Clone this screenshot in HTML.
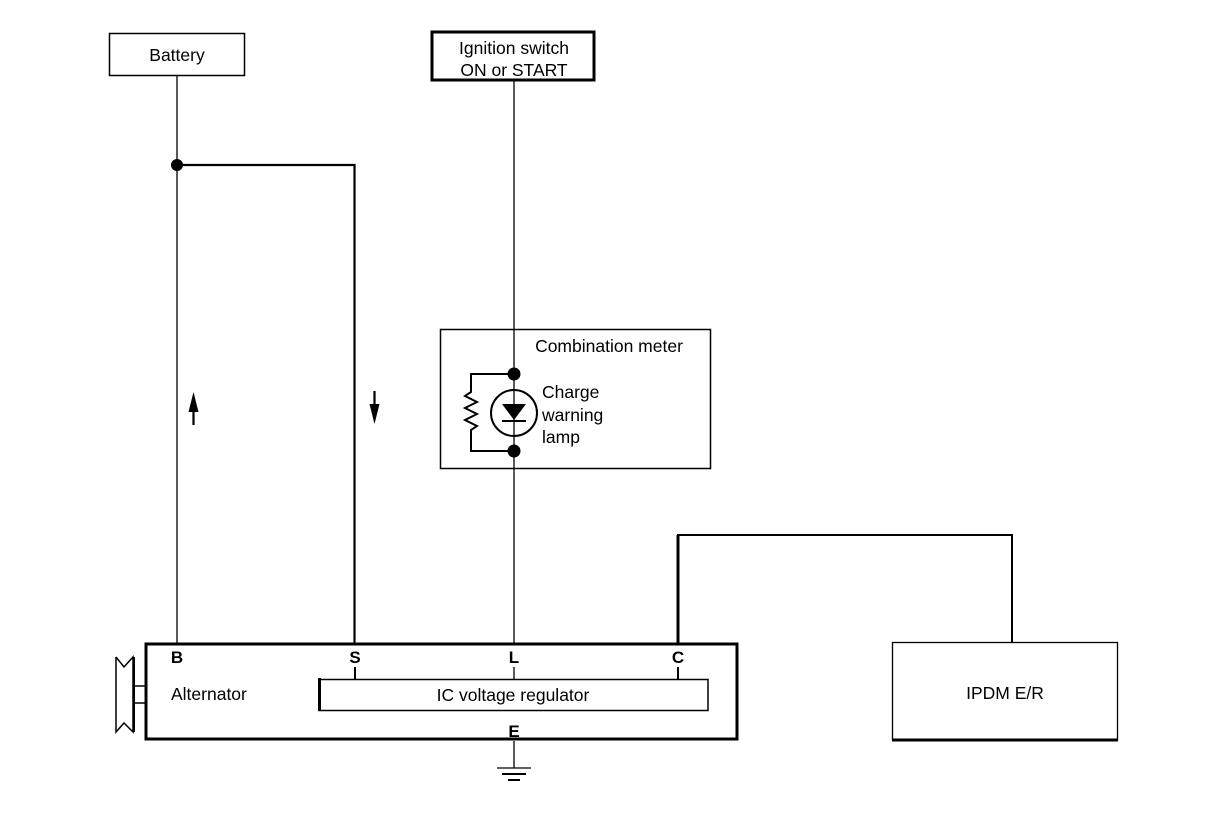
<!DOCTYPE html>
<html><head><meta charset="utf-8"><style>
html,body{margin:0;padding:0;background:#fff;}
svg{display:block;}
text{font-family:"Liberation Sans",sans-serif;fill:#000;}
</style></head><body>
<svg width="1216" height="822" viewBox="0 0 1216 822" xmlns="http://www.w3.org/2000/svg">
<rect x="109.5" y="33.5" width="135" height="42" fill="none" stroke="#000" stroke-width="1.5"/>
<text x="177" y="61" font-size="17.5" text-anchor="middle">Battery</text>
<rect x="432" y="32" width="162" height="48" fill="none" stroke="#000" stroke-width="3"/>
<text x="514" y="54" font-size="17.5" text-anchor="middle">Ignition switch</text>
<text x="514" y="76" font-size="17.5" text-anchor="middle">ON or START</text>
<line x1="177" y1="76" x2="177" y2="643" stroke="#000" stroke-width="1.3"/>
<polyline points="177,165 354.5,165 354.5,643" fill="none" stroke="#000" stroke-width="2.2"/>
<circle cx="177" cy="165" r="6" fill="#000"/>
<line x1="514" y1="81" x2="514" y2="643" stroke="#000" stroke-width="1.3"/>
<line x1="193.5" y1="405" x2="193.5" y2="425" stroke="#000" stroke-width="2.2"/>
<polygon points="193.5,392 188.5,412 198.5,412" fill="#000"/>
<line x1="374.5" y1="391" x2="374.5" y2="412" stroke="#000" stroke-width="2.2"/>
<polygon points="374.5,424 369.5,404 379.5,404" fill="#000"/>
<rect x="440.5" y="329.5" width="270" height="139" fill="none" stroke="#000" stroke-width="1.5"/>
<text x="609" y="352" font-size="17.5" text-anchor="middle">Combination meter</text>
<polyline points="514,374 471,374 471,392 465,396 477,402 465,408 477,414 465,420 477,426 471,430 471,451 514,451" fill="none" stroke="#000" stroke-width="2"/>
<circle cx="514" cy="374" r="6.5" fill="#000"/>
<circle cx="514" cy="451" r="6.5" fill="#000"/>
<circle cx="514" cy="413" r="23" fill="#fff" stroke="#000" stroke-width="2"/>
<line x1="514" y1="390" x2="514" y2="436" stroke="#000" stroke-width="1.3"/>
<polygon points="502,404 526,404 514,420" fill="#000"/>
<line x1="502" y1="421" x2="526" y2="421" stroke="#000" stroke-width="2"/>
<text x="542" y="398" font-size="17.5">Charge</text>
<text x="542" y="421" font-size="17.5">warning</text>
<text x="542" y="443" font-size="17.5">lamp</text>
<polyline points="678,643 678,535 1012,535 1012,643" fill="none" stroke="#000" stroke-width="2"/>
<line x1="678" y1="535" x2="678" y2="643" stroke="#000" stroke-width="3"/>
<rect x="146" y="644" width="591" height="95" fill="none" stroke="#000" stroke-width="3"/>
<text x="177" y="663" font-size="17" font-weight="bold" text-anchor="middle">B</text>
<text x="355" y="663" font-size="17" font-weight="bold" text-anchor="middle">S</text>
<text x="514" y="663" font-size="17" font-weight="bold" text-anchor="middle">L</text>
<text x="678" y="663" font-size="17" font-weight="bold" text-anchor="middle">C</text>
<text x="514" y="737" font-size="17" font-weight="bold" text-anchor="middle">E</text>
<text x="171" y="700" font-size="17.5">Alternator</text>
<line x1="355" y1="667" x2="355" y2="679" stroke="#000" stroke-width="2"/>
<line x1="514" y1="667" x2="514" y2="679" stroke="#000" stroke-width="1.3"/>
<line x1="678" y1="667" x2="678" y2="679" stroke="#000" stroke-width="2"/>
<rect x="319" y="679.5" width="389" height="31" fill="none" stroke="#000" stroke-width="1.5"/>
<line x1="319.5" y1="678" x2="319.5" y2="711" stroke="#000" stroke-width="3"/>
<text x="513" y="701" font-size="17.5" text-anchor="middle">IC voltage regulator</text>
<polyline points="116,657 124,667 133,657 133,732 124,723 116,732 116,657" fill="none" stroke="#000" stroke-width="1.5"/>
<line x1="134" y1="686" x2="145" y2="686" stroke="#000" stroke-width="1.5"/>
<line x1="134" y1="703" x2="145" y2="703" stroke="#000" stroke-width="1.5"/>
<line x1="134" y1="657" x2="134" y2="732" stroke="#000" stroke-width="2"/>
<line x1="514" y1="741" x2="514" y2="768" stroke="#000" stroke-width="1.3"/>
<line x1="497" y1="768" x2="531" y2="768" stroke="#000" stroke-width="1.3"/>
<line x1="502" y1="774" x2="526" y2="774" stroke="#000" stroke-width="2"/>
<line x1="508" y1="780" x2="520" y2="780" stroke="#000" stroke-width="2"/>
<rect x="892.5" y="642.5" width="225" height="97" fill="none" stroke="#000" stroke-width="1.3"/>
<line x1="892" y1="740" x2="1118" y2="740" stroke="#000" stroke-width="3"/>
<text x="1005" y="699" font-size="17.5" text-anchor="middle">IPDM E/R</text>
</svg>
</body></html>
